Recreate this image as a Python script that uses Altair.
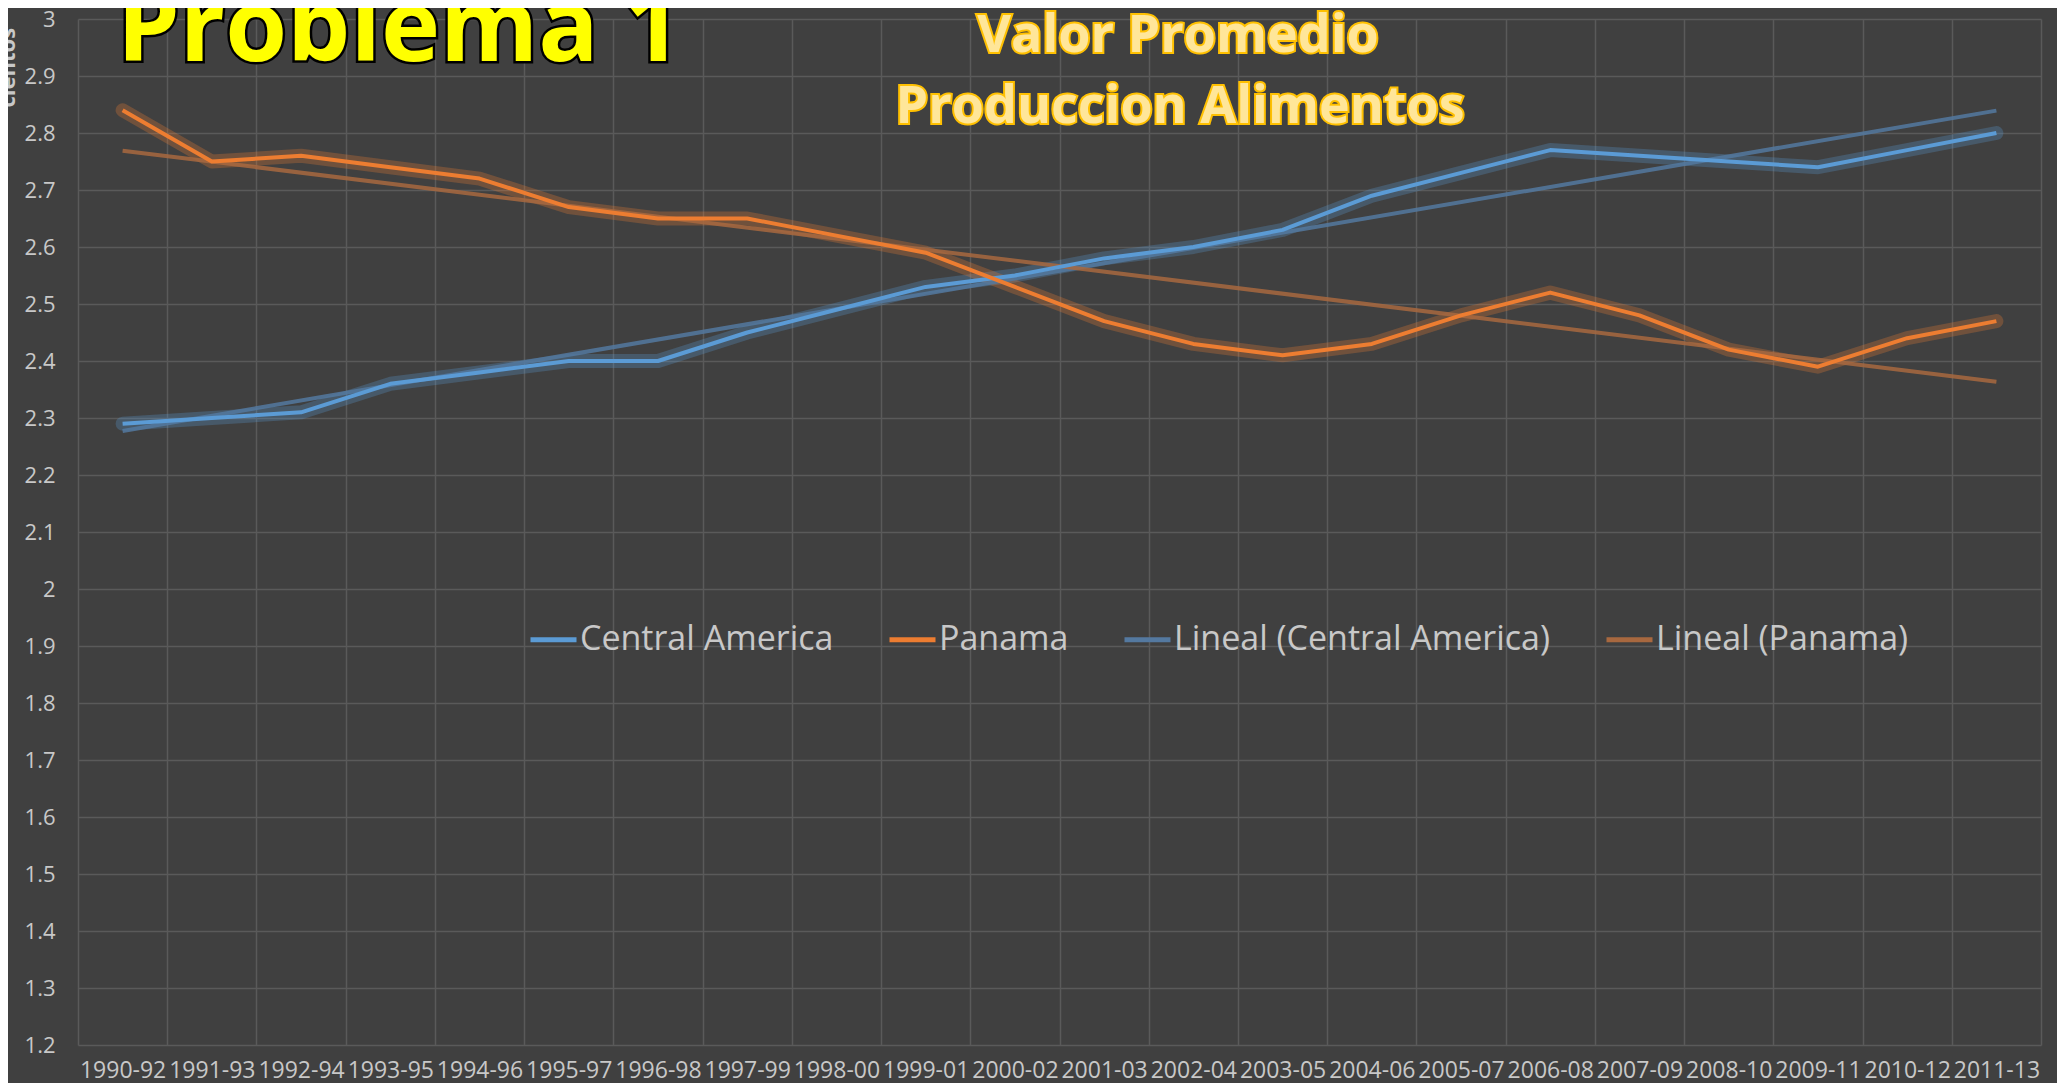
import altair as alt
import pandas as pd

periods = ["1990-92", "1991-93", "1992-94", "1993-95", "1994-96", "1995-97", "1996-98",
           "1997-99", "1998-00", "1999-01", "2000-02", "2001-03", "2002-04", "2003-05",
           "2004-06", "2005-07", "2006-08", "2007-09", "2008-10", "2009-11", "2010-12", "2011-13"]
central_america = [2.29, 2.30, 2.31, 2.36, 2.38, 2.40, 2.40, 2.45, 2.49, 2.53, 2.55,
                   2.58, 2.60, 2.63, 2.69, 2.73, 2.77, 2.76, 2.75, 2.74, 2.77, 2.80]
panama = [2.84, 2.75, 2.76, 2.74, 2.72, 2.67, 2.65, 2.65, 2.62, 2.59, 2.53,
          2.47, 2.43, 2.41, 2.43, 2.48, 2.52, 2.48, 2.42, 2.39, 2.44, 2.47]
series_names = ["Central America", "Panama"]
legend_names = ["Central America", "Panama", "Lineal (Central America)", "Lineal (Panama)"]
legend_colors = ["#5B9BD5", "#ED7D31", "#5479A0", "#A8683F"]
y_ticks = [1.2, 1.3, 1.4, 1.5, 1.6, 1.7, 1.8, 1.9, 2.0, 2.1, 2.2, 2.3, 2.4, 2.5,
           2.6, 2.7, 2.8, 2.9, 3.0]
title_main = "Problema 1"
title_sub = ["Valor Promedio", "Produccion Alimentos"]
y_title = "cientos"

rows = []
for name, vals in zip(series_names, [central_america, panama]):
    for i, (p, v) in enumerate(zip(periods, vals)):
        rows.append({"series": name, "period": p, "idx": i, "value": v})
df = pd.DataFrame(rows)

FONT = "Open Sans"
LABEL = "#C8C8C8"
GRID = "#5A5A5A"

band_scale = alt.Scale(type="band", domain=periods, paddingInner=0, paddingOuter=0)
x_axis = alt.Axis(title=None, tickBand="extent", grid=True, gridColor=GRID, gridWidth=1.5,
                  ticks=False, domain=False, labelAngle=0, labelFontSize=23,
                  labelFont=FONT, labelColor=LABEL, labelPadding=32,
                  labelBaseline="alphabetic", labelOverlap=False, labelBound=False)
x_main = alt.X("period:N", scale=band_scale, bandPosition=0.5, axis=x_axis)
x_glow = alt.X("period:N", scale=band_scale, bandPosition=0.5, axis=None)
# same pixel positions as the band centres: index i sits at (i + 0.5) / n of the width
x_trend = alt.X("idx:Q", axis=None,
                scale=alt.Scale(domain=[-0.5, len(periods) - 0.5], nice=False, zero=False))

y_enc = alt.Y(
    "value:Q",
    scale=alt.Scale(domain=[1.2, 3.0], nice=False, zero=False),
    axis=alt.Axis(values=y_ticks, format="~g", grid=True, gridColor=GRID, gridWidth=1.5,
                  ticks=False, domain=False, labelFontSize=22, labelFont=FONT,
                  labelColor=LABEL, labelPadding=23,
                  title=y_title, titleAngle=270, titleX=-64, titleY=88, titleAlign="left",
                  titleBaseline="alphabetic", titleFontSize=22, titleFont=FONT,
                  titleFontWeight="bold", titleColor=LABEL),
)
color_enc = alt.Color(
    "series:N",
    scale=alt.Scale(domain=legend_names, range=legend_colors),
    legend=alt.Legend(title=None, orient="none", legendX=450, legendY=595,
                      direction="horizontal", columns=4, symbolType="stroke",
                      symbolSize=2116, symbolStrokeWidth=5, symbolOpacity=1,
                      labelFontSize=34, labelLimit=0,
                      labelFont=FONT, labelColor=LABEL, columnPadding=45,
                      labelOffset=1, padding=0),
)

base = alt.Chart(df)
glow = base.mark_line(strokeWidth=14, opacity=0.28, strokeJoin="round", strokeCap="round").encode(
    x=x_glow, y=y_enc, color=color_enc)
trend = (
    alt.Chart(df)
    .transform_regression("idx", "value", groupby=["series"])
    .transform_calculate(series="'Lineal (' + datum.series + ')'")
    .mark_line(strokeWidth=4, opacity=0.85)
    .encode(x=x_trend, y=y_enc, color=color_enc)
)
main = base.mark_line(strokeWidth=4, strokeJoin="round").encode(x=x_main, y=y_enc, color=color_enc)


def label(text, x, y, size, fill, stroke, sw, align):
    d = pd.DataFrame({"t": [text]})
    under = alt.Chart(d).mark_text(align=align, baseline="alphabetic", font=FONT,
                                   fontWeight="bold", fontSize=size, fill=fill,
                                   stroke=stroke, strokeWidth=sw).encode(
        text="t:N", x=alt.value(x), y=alt.value(y))
    over = alt.Chart(d).mark_text(align=align, baseline="alphabetic", font=FONT,
                                  fontWeight="bold", fontSize=size, fill=fill).encode(
        text="t:N", x=alt.value(x), y=alt.value(y))
    return [under, over]


texts = []
texts += label(title_main, 39, 42, 100, "#FFFF00", "#000000", 5, "left")
texts += label(title_sub[0], 1100, 33, 52, "#FFE699", "#FFC000", 4, "center")
texts += label(title_sub[1], 1102, 104, 52, "#FFE699", "#FFC000", 4, "center")

chart = (
    alt.layer(glow, trend, main, *texts)
    .resolve_scale(x="independent")
    .properties(
        width=1963, height=1026,
        autosize=alt.AutoSizeParams(type="none"),
        padding={"left": 70, "top": 11, "right": 16, "bottom": 38},
        background="#404040",
    )
    .configure_view(stroke=None)
)

chart.save("out.html", embed_options={"renderer": "svg", "actions": False})
